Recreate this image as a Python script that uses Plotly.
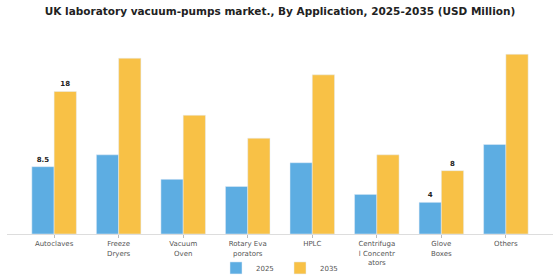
import plotly.graph_objects as go

categories = ["Autoclaves", "Freeze<br>Dryers", "Vacuum<br>Oven", "Rotary Eva<br>porators", "HPLC",
              "Centrifuga<br>l Concentr<br>ators", "Glove<br>Boxes", "Others"]
values_2025 = [8.5, 10.0, 6.9, 6.0, 9.0, 5.0, 4.0, 11.3]
values_2035 = [18.0, 22.2, 15.0, 12.1, 20.1, 10.0, 8.0, 22.7]
labels_2025 = ["8.5", "", "", "", "", "", "4", ""]
labels_2035 = ["18", "", "", "", "", "", "8", ""]

blue = "#5DADE2"
orange = "#F8C146"

fig = go.Figure()
fig.add_trace(go.Bar(x=categories, y=values_2025, name="2025", marker_color=blue,
                     text=["<b>%s</b>" % t if t else "" for t in labels_2025],
                     textposition="outside", textfont=dict(size=7, color="#222"),
                     cliponaxis=False))
fig.add_trace(go.Bar(x=categories, y=values_2035, name="2035", marker_color=orange,
                     text=["<b>%s</b>" % t if t else "" for t in labels_2035],
                     textposition="outside", textfont=dict(size=7, color="#222"),
                     cliponaxis=False))

fig.update_layout(
    width=560, height=280,
    margin=dict(l=7, r=7, t=40, b=46, autoexpand=False),
    paper_bgcolor="white", plot_bgcolor="white",
    font=dict(family="DejaVu Sans", size=7, color="#555"),
    title=dict(text="<b>UK laboratory vacuum-pumps market., By Application, 2025-2035 (USD Million)</b>",
               x=0.5, xanchor="center", y=0.96, yanchor="middle",
               font=dict(size=10.5, color="#222")),
    barmode="group", bargap=0.31, bargroupgap=0,
    legend=dict(orientation="h", x=0.5, xanchor="center", y=-0.175, yanchor="middle",
                bgcolor="rgba(0,0,0,0)",
                font=dict(size=7, color="#555"), itemwidth=30, entrywidth=19),
    xaxis=dict(range=[-0.73, 7.73], showline=True, linecolor="#ddd", linewidth=1,
               ticks="outside", ticklen=3, tickcolor="#bbb", tickangle=0, automargin=False,
               tickfont=dict(size=7, color="#555")),
    yaxis=dict(range=[0, 24.5], visible=False, showgrid=False, automargin=False),
)

fig.write_html("out.html")
